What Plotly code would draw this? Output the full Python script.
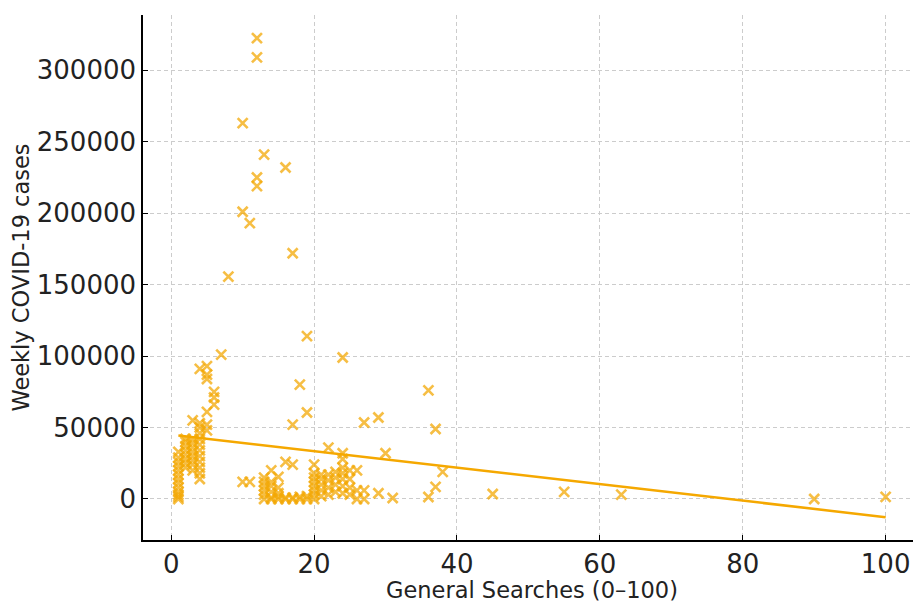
import plotly.graph_objects as go
import numpy as np

# General searches (0-100) for each week, and weekly COVID-19 cases
searches = (
    [1]*13 + [2]*8 + [3]*9 + [4]*12 + [5]*6 + [6]*3 + [7] + [8] + [10]*3 + [11]*2 + [12]*4
    + [13]*7 + [14]*6 + [15]*5 + [16]*4 + [17]*5 + [18]*3 + [19]*4 + [20]*8 + [21]*5
    + [22]*5 + [23]*4 + [24]*8 + [25]*4 + [26]*3 + [27]*3 + [29]*2 + [30] + [31]
    + [36]*2 + [37]*2 + [38] + [45] + [55] + [63] + [90] + [100]
)
cases = (
    [0, 1500, 3000, 5000, 8000, 11000, 14000, 17000, 20000, 23000, 26000, 29000, 33000]
    + [22000, 25000, 28000, 31000, 34000, 37000, 40000, 42000]
    + [20000, 24000, 27000, 30000, 33000, 36000, 39000, 42000, 55000]
    + [14000, 18000, 22000, 26000, 30000, 34000, 38000, 42000, 46000, 50000, 53000, 91000]
    + [48000, 52000, 61000, 84000, 87000, 93000]
    + [66000, 71000, 75000]
    + [101000]
    + [155600]
    + [263000, 201000, 12000]
    + [193000, 12000]
    + [322500, 309000, 225000, 219000]
    + [241000, 0, 3000, 6000, 9000, 12000, 15000]
    + [20000, 0, 1000, 5000, 9000, 12000]
    + [15500, 0, 1500, 4000, 8000]
    + [232000, 26000, 0, 1000]
    + [172000, 52000, 24000, 0, 1000]
    + [80000, 0, 1500]
    + [114000, 60500, 0, 2000]
    + [24000, 0, 3000, 6000, 9000, 12000, 15000, 18000]
    + [2000, 6000, 10000, 14000, 17000]
    + [36000, 3000, 8000, 13000, 17000]
    + [5000, 10000, 15000, 19000]
    + [99000, 32000, 4000, 9000, 14000, 18000, 22000, 28000]
    + [3000, 8000, 14000, 20000]
    + [20000, 0, 6000]
    + [53500, 6000, 0]
    + [57000, 4000]
    + [32000]
    + [700]
    + [76000, 1400]
    + [49000, 8500]
    + [19000]
    + [3500]
    + [5000]
    + [3000]
    + [0]
    + [1500]
)

# Linear trend parameters (cases = intercept + slope * searches)
fit_intercept = 45000
fit_slope = -577

x_tick_vals = [0, 20, 40, 60, 80, 100]
y_tick_vals = [0, 50000, 100000, 150000, 200000, 250000, 300000]

xs = np.array(searches, dtype=float)
line_x = np.array([xs.min(), xs.max()])
line_y = fit_intercept + fit_slope * line_x

fig = go.Figure()
fig.add_trace(go.Scatter(
    x=searches, y=cases, mode="markers",
    marker=dict(symbol="x-thin", size=10,
                color="rgba(243,168,5,0.75)",
                line=dict(width=2.6, color="rgba(243,168,5,0.75)")),
    showlegend=False, hoverinfo="x+y",
))
fig.add_trace(go.Scatter(
    x=line_x, y=line_y, mode="lines",
    line=dict(color="#F5A800", width=2.5),
    showlegend=False,
))

font_family = "DejaVu Sans, sans-serif"
fig.update_layout(
    width=913, height=595,
    margin=dict(l=135, r=0, t=7, b=63),
    paper_bgcolor="white", plot_bgcolor="white",
    font=dict(family=font_family, color="#222222"),
)
fig.update_xaxes(
    range=[-3.95, 104.95], tickvals=x_tick_vals,
    showgrid=True, gridcolor="#cccccc", griddash="4px,3px", gridwidth=1,
    zeroline=False, showline=True, linecolor="black", linewidth=1.5,
    ticks="inside", ticklen=5, tickcolor="black",
    tickfont=dict(size=26, family=font_family, color="#222222"),
    title=dict(text="General Searches (0–100)", font=dict(size=22.5, family=font_family, color="#222222"), standoff=2),
)
fig.update_yaxes(
    range=[-28700, 338700], tickvals=y_tick_vals,
    showgrid=True, gridcolor="#cccccc", griddash="4px,3px", gridwidth=1,
    zeroline=False, showline=True, linecolor="black", linewidth=1.5,
    ticks="inside", ticklen=5, tickcolor="black",
    tickformat="d",
    tickfont=dict(size=26, family=font_family, color="#222222"),
    title=dict(text="Weekly COVID-19 cases", font=dict(size=22.5, family=font_family, color="#222222"), standoff=6),
)

fig.write_html("out.html")
